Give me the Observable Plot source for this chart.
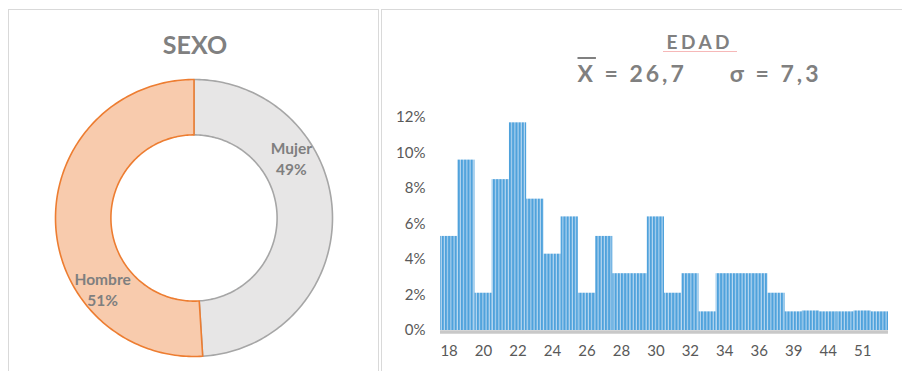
<!DOCTYPE html>
<html>
<head>
<meta charset="utf-8">
<script src="https://cdn.jsdelivr.net/npm/d3@7"></script>
<script src="https://cdn.jsdelivr.net/npm/@observablehq/plot@0.6"></script>
<style>
  body { margin: 0; background: #fff; font-family: Lato, "Open Sans", sans-serif; }
  #page { position: relative; width: 902px; height: 371px; overflow: hidden; background: #fff; }
  .panel { position: absolute; border: 1px solid #D9D9D9; box-sizing: border-box; }
  .abs { position: absolute; }
  .t { position: absolute; transform: translateX(-50%); white-space: pre; line-height: 1; color: #808080; font-weight: bold; font-family: Lato, "Open Sans", sans-serif; }
</style>
</head>
<body>
<svg width="0" height="0" style="position:absolute">
  <defs>
    <pattern id="stripes" patternUnits="userSpaceOnUse" width="3.2" height="10">
      <rect width="3.2" height="10" fill="#B9D8F1"></rect>
      <rect width="2.1" height="10" fill="#4FA2DC"></rect>
    </pattern>
  </defs>
</svg>
<div id="page">
  <div class="panel" style="left:8px;top:9px;width:371px;height:420px"></div>
  <div class="panel" style="left:381px;top:9px;width:700px;height:420px"></div>
  <div id="sexo" class="abs" style="left:0;top:0;width:380px;height:371px"></div>
  <div id="edad" class="abs" style="left:381px;top:0;width:521px;height:371px"></div>
  <div class="t" style="left:195px;top:32px;font-size:25px;">SEXO</div>
  <div class="t" style="left:698px;top:32px;font-size:19px;letter-spacing:3.5px;padding-left:3.5px;">EDAD</div>
  <div class="abs" style="left:663px;top:51px;width:74px;height:1px;background:#F6B8B8"></div>
  <div class="t" style="left:698px;top:62px;font-size:23px;letter-spacing:3px;padding-left:3px;"><span style="text-decoration:overline;text-decoration-thickness:2px;">X</span> = 26,7     σ = 7,3</div>
</div>
<script>
// ---- Data: SEXO (donut)
const sexoLabels = ["Mujer", "Hombre"];
const sexoPct = [49, 51];
const sexoFill = ["#E7E6E6", "#F8CBAD"];
const sexoStroke = ["#A6A6A6", "#ED7D31"];

// ---- Data: EDAD (histogram, % of respondents per age)
const edadLabels = ["18","19","20","21","22","23","24","25","26","27","28","29","30","31","32","33","34","35","36","37","39","41","44","47","51","55"];
const edadPct = [5.3, 9.6, 2.1, 8.5, 11.7, 7.4, 4.3, 6.4, 2.1, 5.3, 3.2, 3.2, 6.4, 2.1, 3.2, 1.05, 3.2, 3.2, 3.2, 2.1, 1.05, 1.1, 1.05, 1.05, 1.1, 1.05];
const edadTicks = ["18","20","22","24","26","28","30","32","34","36","39","44","51"];
const yTicks = [0, 2, 4, 6, 8, 10, 12];

// ---- Donut geometry from the data
const total = d3.sum(sexoPct);
let acc = 0;
const slices = sexoLabels.map((label, i) => {
  const a0 = acc / total; acc += sexoPct[i];
  return {label, pct: sexoPct[i], a0, a1: acc / total, fill: sexoFill[i], stroke: sexoStroke[i]};
});
const R = 1, r = 0.6;
function ring(s, steps = 160) {
  const pts = [];
  for (let k = 0; k <= steps; k++) {
    const a = 2 * Math.PI * (s.a0 + (s.a1 - s.a0) * k / steps);
    pts.push({x: R * Math.sin(a), y: R * Math.cos(a)});
  }
  for (let k = steps; k >= 0; k--) {
    const a = 2 * Math.PI * (s.a0 + (s.a1 - s.a0) * k / steps);
    pts.push({x: r * Math.sin(a), y: r * Math.cos(a)});
  }
  pts.push(pts[0]);
  return pts;
}
const labelOffset = -33 * Math.PI / 180, labelR = 0.83;
const labelAngle = d => 2 * Math.PI * (d.a0 + d.a1) / 2 + labelOffset;

const sexo = Plot.plot({
  width: 380, height: 371,
  marginLeft: 55, marginRight: 48, marginTop: 79, marginBottom: 15,
  x: {domain: [-1, 1], axis: null},
  y: {domain: [-1, 1], axis: null},
  style: {background: "transparent", fontFamily: "Lato, 'Open Sans', sans-serif"},
  marks: [
    ...slices.map(s => Plot.line(ring(s), {x: "x", y: "y", fill: s.fill, stroke: s.stroke, strokeWidth: 1.6, curve: "linear"})),
    Plot.text(slices, {
      x: d => labelR * Math.sin(labelAngle(d)),
      y: d => labelR * Math.cos(labelAngle(d)),
      text: d => `${d.label}\n${d.pct}%`,
      fill: "#7F7F7F", fontWeight: "bold", fontSize: 15.5, lineHeight: 1.4, dx: 3, dy: 5
    })
  ]
});
document.getElementById("sexo").appendChild(sexo);

// ---- Histogram
const edad = edadLabels.map((age, i) => ({age, pct: edadPct[i]}));
const edadChart = Plot.plot({
  width: 521, height: 371,
  marginLeft: 59, marginRight: 14, marginTop: 117, marginBottom: 41,
  style: {background: "transparent", fontFamily: "Lato, 'Open Sans', sans-serif", fontSize: "15px", color: "#595959"},
  x: {type: "band", domain: edadLabels, padding: 0, round: false, tickSize: 0, tickPadding: 15,
      tickFormat: d => edadTicks.includes(d) ? d : "", label: null},
  y: {domain: [0, 12], ticks: yTicks, tickFormat: d => d + "%", tickSize: 0, tickPadding: 15, label: null},
  marks: [
    Plot.barY(edad, {x: "age", y: "pct", fill: "url(#stripes)", inset: 0}),
    Plot.ruleY([0], {stroke: "#C8C8C8", strokeWidth: 3.5, dy: 1.5})
  ]
});
document.getElementById("edad").appendChild(edadChart);
</script>
</body>
</html>
